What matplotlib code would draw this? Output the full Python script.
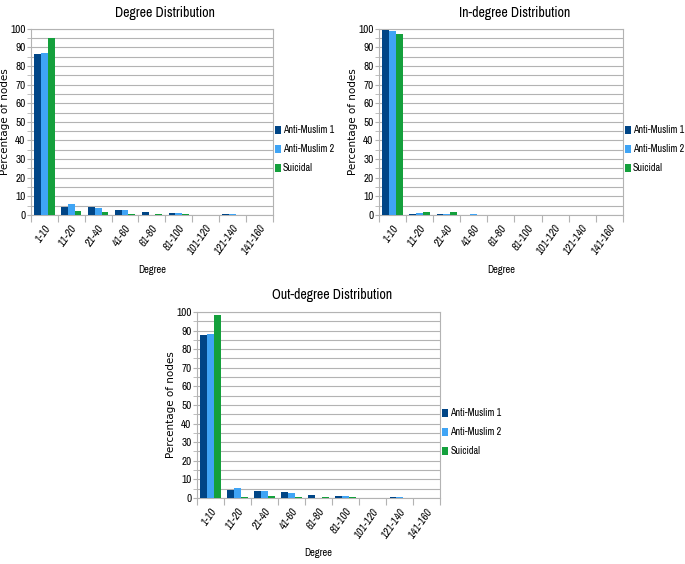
import matplotlib
matplotlib.use("Agg")
import matplotlib.pyplot as plt
from matplotlib import font_manager
import numpy as np

names = sorted({f.name for f in font_manager.fontManager.ttflist})
narrow = [n for n in names if "Narrow" in n or "Condensed" in n]
fam = narrow[0] if narrow else "Liberation Sans"
plt.rcParams['font.family'] = [fam, 'Liberation Sans', 'DejaVu Sans']

# categories and series (percent of nodes)
bins = ["1-10", "11-20", "21-40", "41-60", "61-80", "81-100", "101-120", "121-140", "141-160"]
series_names = ["Anti-Muslim 1", "Anti-Muslim 2", "Suicidal"]
colors = ["#004586", "#3fa4f5", "#14a03c"]

deg_am1 = [86.5, 4.5, 4.0, 2.8, 1.8, 1.2, 0.0, 0.3, 0.1]
deg_am2 = [87.0, 6.0, 3.5, 2.5, 0.2, 1.2, 0.0, 0.4, 0.1]
deg_sui = [95.0, 2.0, 1.8, 0.6, 0.6, 0.5, 0.0, 0.0, 0.0]

in_am1 = [99.5, 0.5, 0.5, 0.1, 0.0, 0.0, 0.0, 0.0, 0.0]
in_am2 = [99.0, 0.8, 0.3, 0.4, 0.1, 0.0, 0.0, 0.0, 0.0]
in_sui = [97.0, 1.8, 1.3, 0.0, 0.0, 0.0, 0.0, 0.0, 0.0]

out_am1 = [87.5, 4.3, 3.8, 3.0, 1.8, 1.2, 0.0, 0.3, 0.1]
out_am2 = [88.0, 5.5, 3.5, 2.7, 0.2, 1.3, 0.0, 0.4, 0.1]
out_sui = [98.5, 0.5, 1.0, 0.5, 0.7, 0.5, 0.0, 0.0, 0.0]


def draw_panel(ax, title, data, title_pad):
    x = np.arange(len(bins))
    w = 0.25
    for i, vals in enumerate(data):
        ax.bar(x + (i - 1) * w, vals, width=w, color=colors[i],
               label=series_names[i], zorder=3)
    ax.set_xlim(-0.5, len(bins) - 0.5)
    ax.set_ylim(0, 100)
    ax.set_yticks(np.arange(0, 101, 10))
    ax.set_yticks(np.arange(0, 101, 5), minor=True)
    ax.grid(True, which="both", axis="y", color="#b3b3b3", linewidth=0.8, zorder=0)
    # ticks at category boundaries, labels at centres
    ax.set_xticks(np.arange(-0.5, len(bins), 1))
    ax.set_xticklabels([])
    ax.set_xticks(x, minor=True)
    ax.set_xticklabels(bins, minor=True, rotation=55, ha="right",
                       rotation_mode="anchor", fontsize=8, style="italic")
    ax.tick_params(axis="x", which="minor", length=0, pad=6)
    ax.tick_params(axis="x", which="major", length=5, color="#b3b3b3")
    ax.tick_params(axis="y", which="both", length=3, color="#b3b3b3", labelsize=8, pad=1)
    for s in ax.spines.values():
        s.set_color("#b3b3b3")
        s.set_linewidth(0.8)
    ax.set_title(title, fontsize=10, pad=title_pad, x=0.555)
    ax.set_xlabel("Degree", fontsize=7.5, labelpad=6)
    ax.set_ylabel("Percentage of nodes", fontsize=7.5, labelpad=0,
                  family=["DejaVu Sans"])
    ax.legend(loc="center left", bbox_to_anchor=(1.0, 0.353), frameon=False,
              fontsize=7.2, handlelength=0.6, handleheight=0.9,
              handletextpad=0.2, labelspacing=0.9, borderpad=0.05,
              borderaxespad=0.15)


fig = plt.figure(figsize=(6.85, 5.64), dpi=100)
ax1 = fig.add_axes([0.0453, 0.619, 0.353, 0.330])
ax2 = fig.add_axes([0.5533, 0.619, 0.356, 0.330])
ax3 = fig.add_axes([0.2876, 0.117, 0.355, 0.330])

draw_panel(ax1, "Degree Distribution", [deg_am1, deg_am2, deg_sui], 8.5)
draw_panel(ax2, "In-degree Distribution", [in_am1, in_am2, in_sui], 8.5)
draw_panel(ax3, "Out-degree Distribution", [out_am1, out_am2, out_sui], 9.5)

fig.savefig("out.png", dpi=100)
